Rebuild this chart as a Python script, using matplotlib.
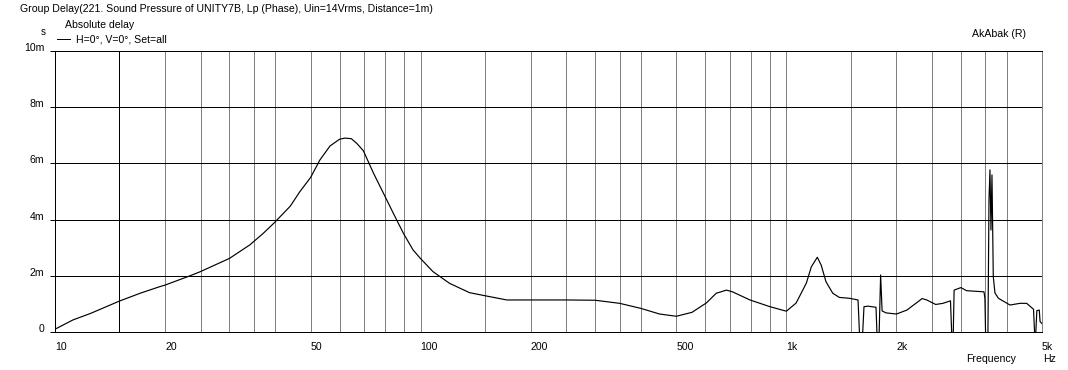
import matplotlib
matplotlib.use('Agg')
import matplotlib.pyplot as plt
from matplotlib.lines import Line2D
from matplotlib.ticker import NullLocator

# ---- data (frequency in Hz, group delay in ms) ----
freq_hz = [10.0, 11.2, 12.5, 15.0, 17.1, 19.3, 20.0, 23.4, 25.0, 30.0, 34.1, 37.1,
           39.8, 44.0, 46.7, 50.0, 53.0, 56.5, 60.0, 62.0, 64.6, 66.9, 69.7, 74.3,
           79.5, 84.2, 89.7, 95.3, 99.8, 108, 120, 136, 150, 172, 200, 250, 300,
           350, 400, 450, 500, 552, 605, 643, 686, 712, 795, 902, 1000, 1063, 1134,
           1170, 1215, 1245, 1283, 1339, 1396, 1487, 1570, 1590, 1610, 1630, 1671,
           1758, 1774, 1792, 1810, 1827, 1873, 2000, 2135, 2270, 2350, 2420, 2560,
           2680, 2810, 2840, 2855, 2875, 3000, 3110, 3470, 3490, 3510, 3555, 3581,
           3603, 3626, 3649, 3665, 3679, 3718, 3800, 4087, 4352, 4540, 4740, 4790,
           4840, 4915, 4940, 5000]
delay_ms = [0.1, 0.43, 0.66, 1.10, 1.38, 1.61, 1.67, 2.0, 2.15, 2.62, 3.1, 3.51,
            3.89, 4.48, 4.99, 5.5, 6.12, 6.62, 6.86, 6.9, 6.88, 6.71, 6.45, 5.65,
            4.88, 4.22, 3.51, 2.92, 2.62, 2.15, 1.73, 1.40, 1.29, 1.14, 1.14, 1.14, 1.13,
            1.02, 0.84, 0.64, 0.56, 0.70, 1.04, 1.38, 1.49, 1.43, 1.14, 0.90, 0.74, 1.03, 1.74,
            2.32, 2.66, 2.38, 1.79, 1.38, 1.23, 1.20, 1.14, -0.5, -0.5, 0.9, 0.92,
            0.88, -0.5, -0.2, 2.03, 0.75, 0.68, 0.64, 0.78, 1.04, 1.19, 1.14, 0.98,
            1.02, 1.11, -0.5, -0.5, 1.49, 1.58, 1.47, 1.43, 1.2, -0.5, -0.5, 4.7,
            5.77, 3.63, 5.59, 3.7, 1.97, 1.39, 1.20, 0.96, 1.02, 1.02, 0.81, -0.5,
            0.76, 0.78, 0.37, 0.3]

grid_freqs = [20, 25, 30, 35, 40, 50, 60, 70, 80, 90, 100, 150, 200, 250, 300, 350,
              400, 500, 600, 700, 800, 900, 1000, 1500, 2000, 2500, 3000, 3500, 4000]
marker_freq = 15
x_tick_freqs = [10, 20, 50, 100, 200, 500, 1000, 2000, 5000]
x_tick_labels = ['10', '20', '50', '100', '200', '500', '1k', '2k', '5k']
y_ticks = [0, 2, 4, 6, 8, 10]
y_tick_labels = ['0', '2m', '4m', '6m', '8m', '10m']

FONT = 'Liberation Sans'
FS = 7.6
plt.rcParams['font.family'] = [FONT, 'DejaVu Sans']
plt.rcParams['font.size'] = FS

W, H = 1068, 370
fig = plt.figure(figsize=(W / 100, H / 100), dpi=100)
L, R, T, B = 55, 1042, 51, 332
ax = fig.add_axes([L / W, 1 - B / H, (R - L) / W, (B - T) / H])
ax.set_xscale('log')
ax.set_xlim(10, 5000)
ax.set_ylim(0, 10)

LW = 0.7
# grid
for f in grid_freqs:
    ax.axvline(f, color='#808080', lw=LW, antialiased=False, zorder=1)
ax.axvline(marker_freq, color='black', lw=LW, antialiased=False, zorder=2)
for y in y_ticks[1:-1]:
    ax.axhline(y, color='black', lw=LW, antialiased=False, zorder=3)

ax.plot(freq_hz, delay_ms, color='black', lw=0.85, zorder=4)

for s in ['left', 'bottom', 'top']:
    ax.spines[s].set_color('black')
    ax.spines[s].set_linewidth(LW)
    ax.spines[s].set_antialiased(False)
ax.spines['right'].set_color('#808080')
ax.spines['right'].set_linewidth(LW)
ax.spines['right'].set_antialiased(False)

ax.set_yticks(y_ticks, y_tick_labels)
ax.tick_params(axis='y', direction='inout', length=7, width=LW, pad=4, labelsize=FS)
for lbl in ax.get_yticklabels():
    lbl.set_va('baseline')

ax.set_xticks(x_tick_freqs, x_tick_labels)
ax.xaxis.set_minor_locator(NullLocator())
ax.tick_params(axis='x', length=0, pad=7, labelsize=FS)
for lbl in ax.get_xticklabels():
    lbl.set_ha('left')

def fx(px):
    return px / W

def fy(py):
    return 1 - py / H

fig.text(fx(20), fy(12), 'Group Delay(221. Sound Pressure of UNITY7B, Lp (Phase), Uin=14Vrms, Distance=1m)',
         ha='left', va='baseline', fontsize=FS)
fig.text(fx(65), fy(28.5), 'Absolute delay', ha='left', va='baseline', fontsize=FS)
fig.text(fx(41), fy(35), 's', ha='left', va='baseline', fontsize=FS - 0.5)
fig.add_artist(Line2D([fx(57), fx(70)], [fy(39), fy(39)], color='black', lw=LW))
fig.text(fx(76), fy(43), 'H=0°, V=0°, Set=all', ha='left', va='baseline', fontsize=FS)
fig.text(fx(972), fy(37), 'AkAbak (R)', ha='left', va='baseline', fontsize=FS)
fig.text(fx(966), fy(362), 'Frequency', ha='left', va='baseline', fontsize=FS)
fig.text(fx(1043), fy(362), 'Hz', ha='left', va='baseline', fontsize=FS)

fig.savefig('out.png', dpi=100, facecolor='white')
